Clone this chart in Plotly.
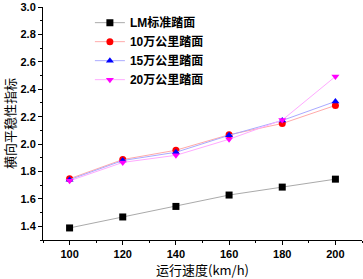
import plotly.graph_objects as go

speeds = [100, 120, 140, 160, 180, 200]
lm = [1.388, 1.468, 1.545, 1.628, 1.686, 1.744]
w10 = [1.747, 1.887, 1.955, 2.068, 2.150, 2.282]
w15 = [1.740, 1.880, 1.940, 2.064, 2.172, 2.311]
w20 = [1.732, 1.866, 1.918, 2.035, 2.175, 2.493]
names = ["LM标准踏面", "10万公里踏面", "15万公里踏面", "20万公里踏面"]

series = [
    (lm, "#aaaaaa", "black", "square"),
    (w10, "#ffaaaa", "red", "circle"),
    (w15, "#aaaaff", "blue", "triangle-up"),
    (w20, "#ffaaff", "magenta", "triangle-down"),
]

fig = go.Figure()
for (vals, lc, mc, sym), nm in zip(series, names):
    fig.add_trace(go.Scatter(
        x=speeds, y=vals, name=nm, mode="lines+markers",
        line=dict(color=lc, width=1),
        marker=dict(color=mc, symbol=sym, size=7),
    ))

font_main = "Liberation Sans, Noto Sans CJK SC"
fig.update_layout(
    width=363, height=279,
    margin=dict(l=43, r=1, t=7, b=39),
    plot_bgcolor="white", paper_bgcolor="white",
    showlegend=True,
    legend=dict(
        x=0.147, y=0.995, xanchor="left", yanchor="top",
        bgcolor="rgba(0,0,0,0)",
        font=dict(family=font_main, size=12, color="black", weight="bold"),
        tracegroupgap=0, itemwidth=30,
    ),
    font=dict(family=font_main, color="black"),
)
fig.update_xaxes(
    range=[90, 210], tickmode="linear", tick0=100, dtick=20,
    showgrid=False, zeroline=False, automargin=False,
    showline=True, linecolor="black", linewidth=1,
    ticks="outside", ticklen=4, tickcolor="black",
    minor=dict(tickmode="linear", tick0=90, dtick=20, ticks="outside", ticklen=2, tickcolor="black"),
    tickfont=dict(size=11, family=font_main, weight="bold"),
    title=dict(text="运行速度(km/h)", font=dict(size=13, family="Noto Sans CJK SC"), standoff=3),
)
fig.update_yaxes(
    range=[1.3, 3.0], tickmode="linear", tick0=1.4, dtick=0.2, tickformat=".1f",
    showgrid=False, zeroline=False, automargin=False,
    showline=True, linecolor="black", linewidth=1,
    ticks="outside", ticklen=4, tickcolor="black",
    minor=dict(tickmode="linear", tick0=1.3, dtick=0.2, ticks="outside", ticklen=2, tickcolor="black"),
    tickfont=dict(size=11, family=font_main, weight="bold"),
    title=dict(text="横向平稳性指标", font=dict(size=13, family="Noto Sans CJK SC"), standoff=2),
)
fig.write_html("out.html", config={"displayModeBar": False},
               post_script="document.body.style.margin='0';")
